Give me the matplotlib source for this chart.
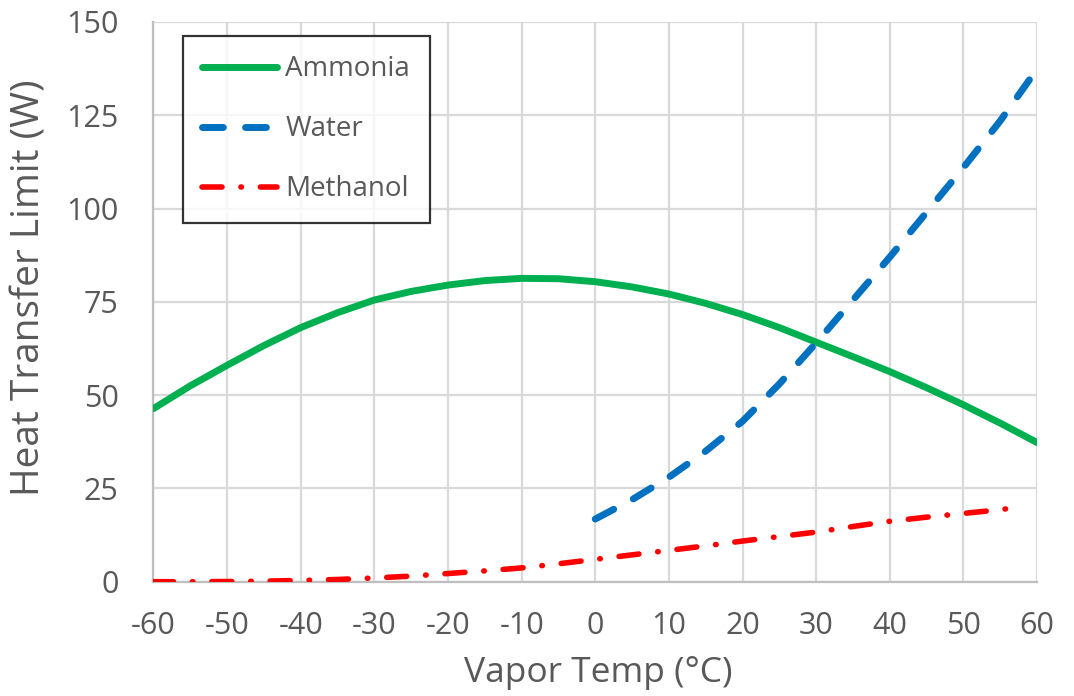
import matplotlib
matplotlib.use('Agg')
import matplotlib.pyplot as plt

# Dampftemperatur in °C und Wärmetransportgrenze in W
temp_ammonia = [-60, -55, -50, -45, -40, -35, -30, -25, -20, -15, -10, -5, 0,
                5, 10, 15, 20, 25, 30, 35, 40, 45, 50, 55, 60]
q_ammonia = [46.4, 52.5, 58.0, 63.3, 68.1, 72.1, 75.5, 77.8, 79.5, 80.7, 81.3,
             81.2, 80.4, 79.0, 77.1, 74.6, 71.6, 68.1, 64.2, 60.3, 56.3, 52.0,
             47.4, 42.5, 37.3]

temp_water = [0, 5, 10, 15, 20, 25, 30, 35, 40, 45, 50, 55, 59.5]
q_water = [16.8, 22.0, 28.0, 35.0, 43.0, 53.0, 64.0, 75.5, 87.0, 99.0, 111.0,
           123.5, 136.0]

temp_methanol = [-60, -55, -50, -45, -40, -35, -30, -25, -20, -15, -10, -5, 0,
                 5, 10, 15, 20, 25, 30, 35, 40, 45, 50, 55, 57.5]
q_methanol = [0.0, 0.0, 0.05, 0.15, 0.35, 0.6, 1.0, 1.5, 2.2, 2.9, 3.7, 4.8,
              6.0, 7.2, 8.4, 9.6, 10.9, 12.1, 13.3, 14.8, 16.2, 17.3, 18.3,
              19.3, 20.0]

x_ticks = list(range(-60, 61, 10))
y_ticks = [0, 25, 50, 75, 100, 125, 150]

plt.rcParams['font.family'] = ['Open Sans', 'DejaVu Sans']
plt.rcParams['axes.unicode_minus'] = False
text_color = '#595959'

fig = plt.figure(figsize=(10.74, 6.96), dpi=100)
ax = fig.add_axes([0.1429, 0.1642, 0.8227, 0.8042])

ax.plot(temp_ammonia, q_ammonia, color='#00B050', lw=5, solid_capstyle='round',
        label='Ammonia', zorder=3)
ax.plot(temp_water, q_water, color='#0070C0', lw=5, dashes=(3.0, 3.2),
        dash_capstyle='round', label='Water', zorder=3)
ax.plot(temp_methanol, q_methanol, color='#FF0000', lw=4,
        dashes=(3.6, 3.4, 0.1, 3.4), dash_capstyle='round',
        label='Methanol', zorder=3)

ax.set_xlim(-60, 60)
ax.set_ylim(0, 150)
ax.set_xticks(x_ticks)
ax.set_yticks(y_ticks)
ax.grid(True, color='#D9D9D9', lw=1.6)
ax.set_axisbelow(True)
for side in ['top', 'right']:
    ax.spines[side].set_visible(False)
for side in ['left', 'bottom']:
    ax.spines[side].set_color('#BFBFBF')
    ax.spines[side].set_linewidth(1.6)
ax.tick_params(length=0, labelsize=22, colors=text_color)
ax.tick_params(axis='x', pad=21)
ax.tick_params(axis='y', pad=25)

ax.set_xlabel('Vapor Temp (°C)', fontsize=25.5, color=text_color,
              va='baseline')
ax.xaxis.set_label_coords(0.503, -0.179)
ax.set_ylabel('Heat Transfer Limit (W)', fontsize=28, color=text_color,
              va='center')
ax.yaxis.set_label_coords(-0.140, 0.525)

leg = ax.legend(loc='upper left', bbox_to_anchor=(0.033, 0.975),
                fontsize=20, frameon=True, fancybox=False, handlelength=2.7,
                handletextpad=0.3, labelspacing=1.15, borderpad=0.7,
                borderaxespad=0)
leg.get_frame().set_edgecolor('black')
leg.get_frame().set_linewidth(1.6)
for t in leg.get_texts():
    t.set_color(text_color)

fig.savefig('out.png', dpi=100, facecolor='white')
